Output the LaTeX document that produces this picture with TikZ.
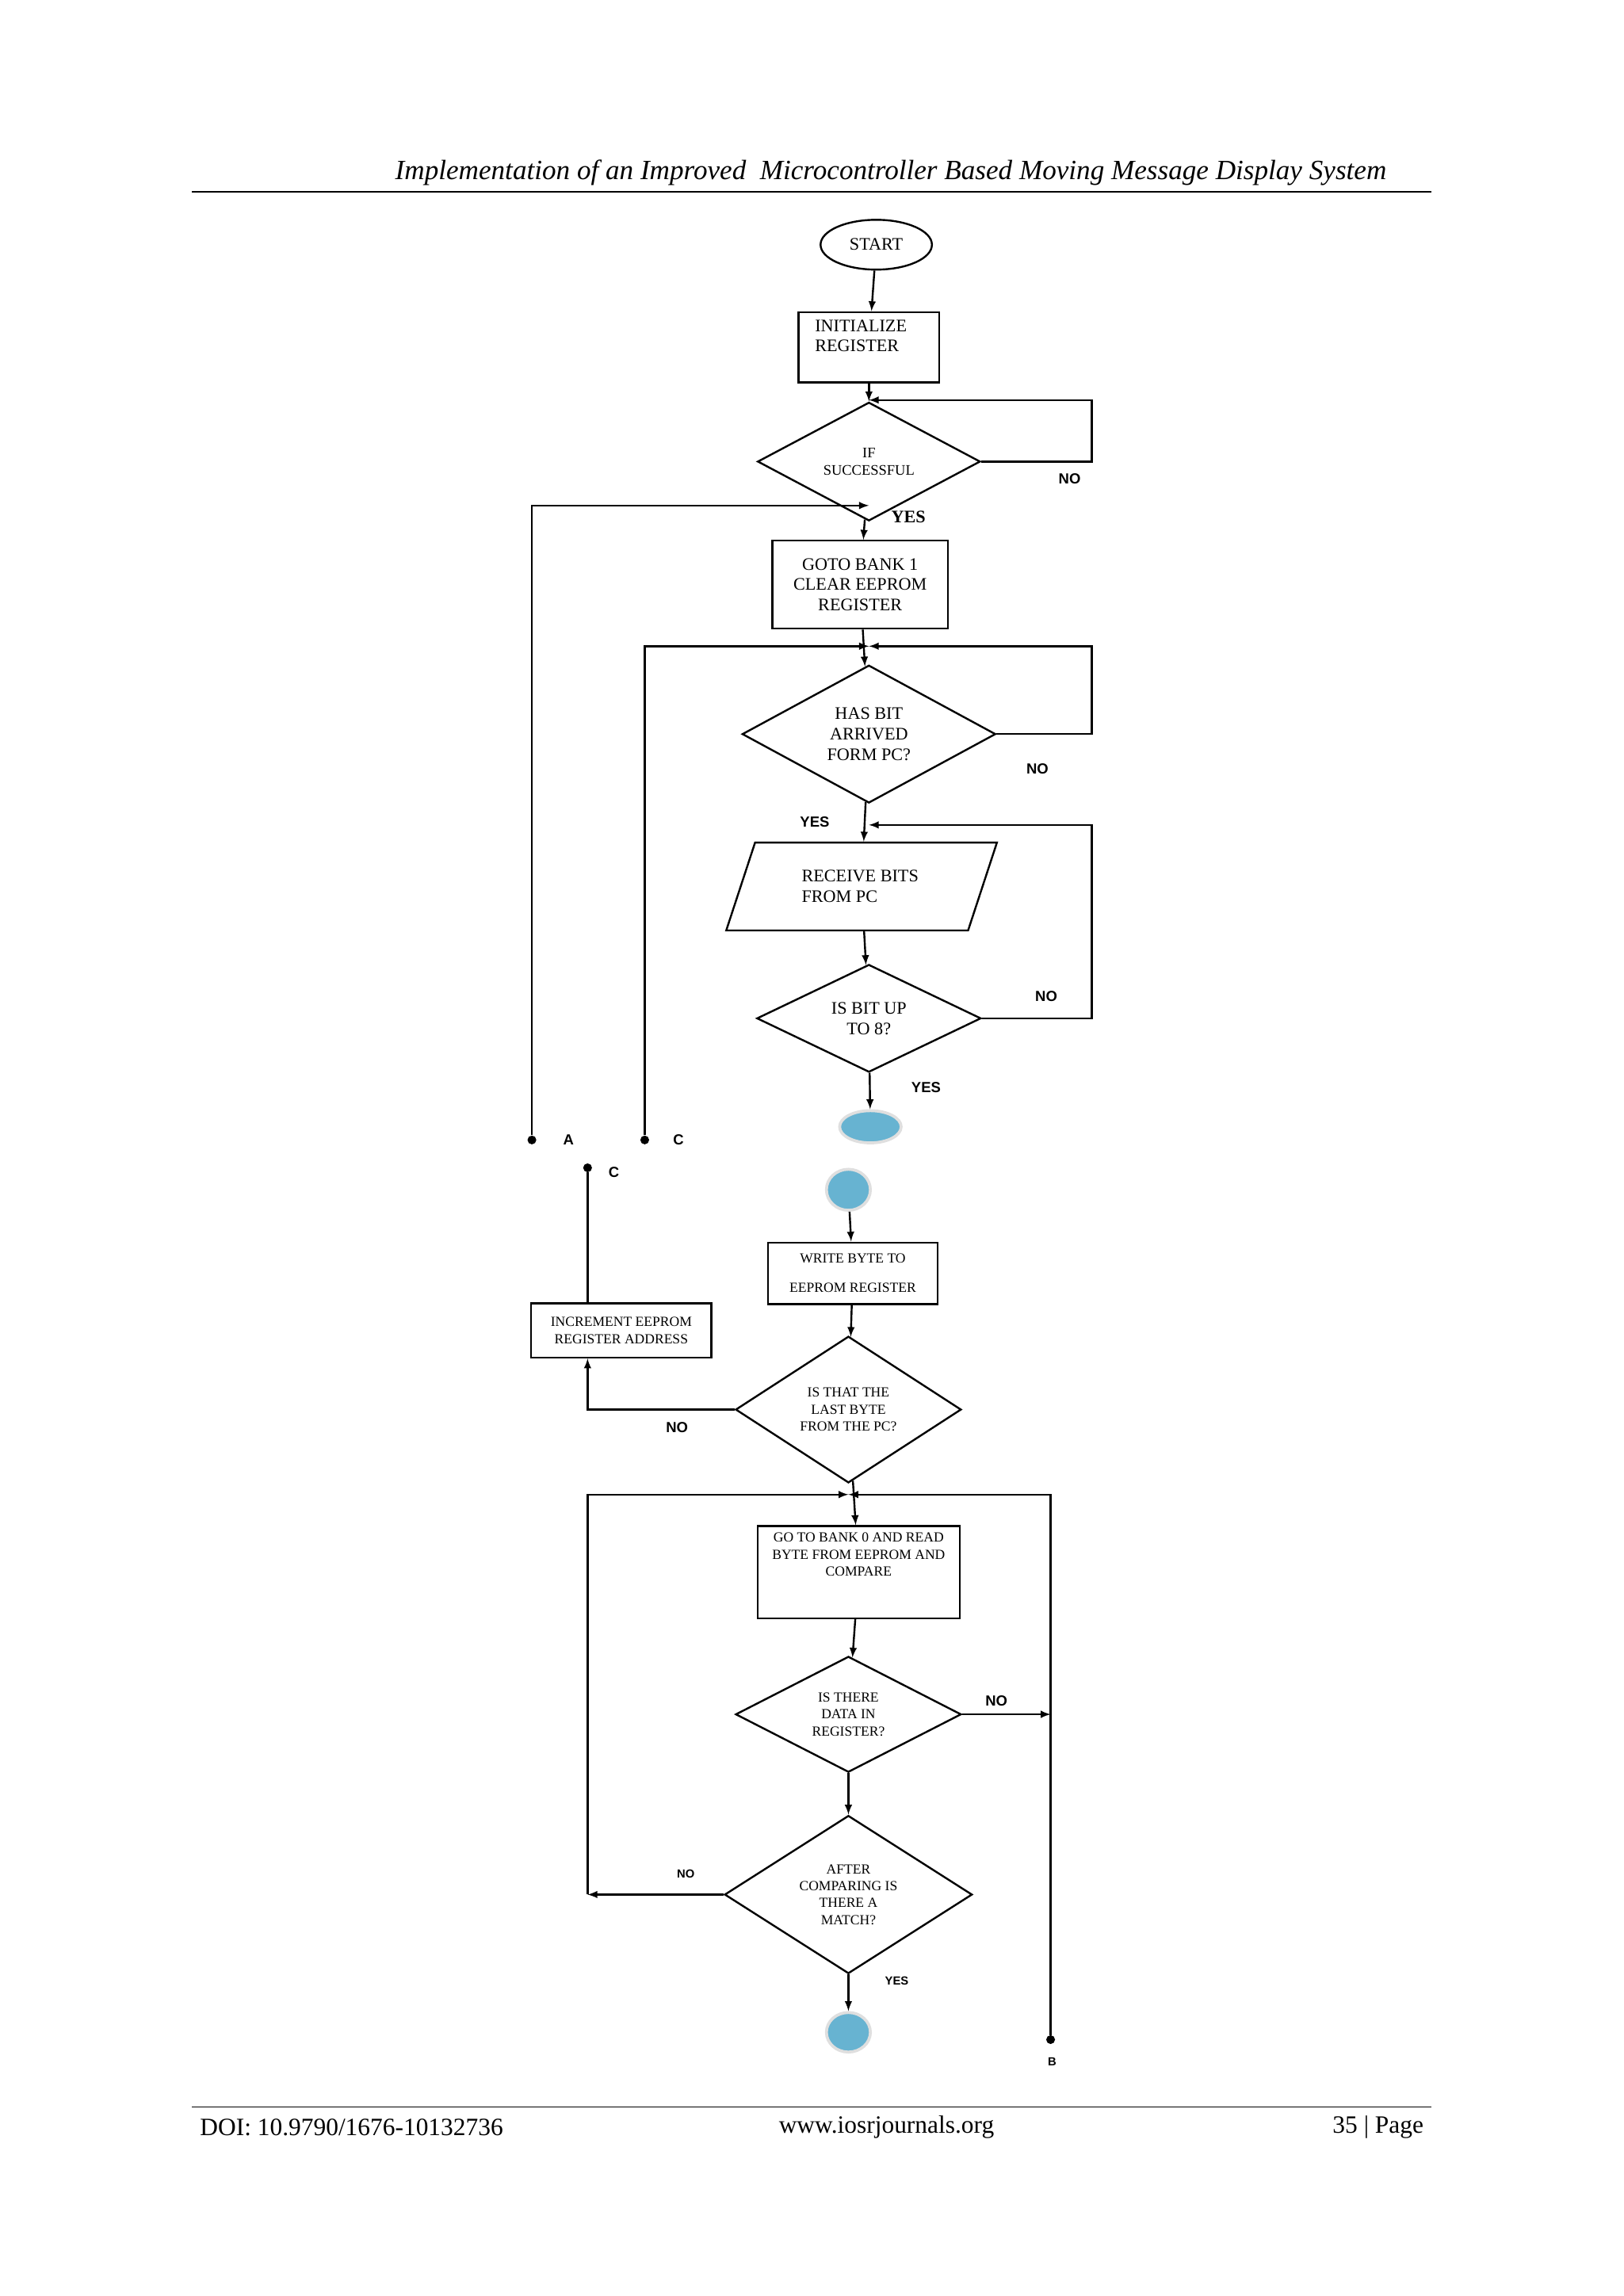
\documentclass[tikz,border=0pt]{standalone}
\usepackage{fontspec}
\setmainfont{Liberation Serif}
\newfontfamily\lblfont{Liberation Sans}
\usetikzlibrary{shapes.geometric, positioning, arrows}

\tikzset{
  flow/.style={draw, line width=1.3pt, inner sep=2pt, align=center, font=\fontsize{12}{14}\selectfont},
  box/.style={flow, rectangle},
  decide/.style={flow, diamond, inner sep=0pt, font=\fontsize{10}{12}\selectfont},
  io/.style={flow, trapezium, trapezium left angle=66, trapezium right angle=114, trapezium stretches=true},
  joint/.style={ellipse, fill=cyan!50!teal!70, draw=gray!25, line width=2pt},
  dot/.style={circle, fill, inner sep=0pt, minimum size=6pt},
  ans/.style={font=\lblfont\bfseries\fontsize{10}{12}\selectfont},
  line/.style={line width=1.3pt},
  arr/.style={line, -latex}
}

\begin{document}
\begin{tikzpicture}[x=1pt, y=-1pt]
\useasboundingbox (0,0) rectangle (1108,1567);

% page header and footer
\node (title) at (608,118) {\fontsize{19}{22}\selectfont\itshape Implementation of an Improved\ \ Microcontroller Based Moving Message Display System};
\draw[line width=0.8pt] (131,131) -- (977,131);
\draw[line width=0.8pt] (131,1438) -- (977,1438);
\node[anchor=west] (doi) at (133,1452) {\fontsize{17}{20}\selectfont DOI: 10.9790/1676-10132736};
\node (web) at (605,1452) {\fontsize{17}{20}\selectfont www.iosrjournals.org};
\node[anchor=east] (pg) at (975,1452) {\fontsize{17}{20}\selectfont 35 | Page};

% upper part
\node[flow, ellipse, minimum width=76pt, minimum height=34pt] (start) at (598,167) {START};
\node[box, minimum width=96pt, minimum height=48pt] (init) at (593,237) {};
\node[anchor=north west, align=left, font=\fontsize{12}{14}\selectfont, inner sep=0pt] (inittxt) at (556,218) {INITIALIZE\\REGISTER};
\node[decide, minimum width=152pt, minimum height=60pt] (succ) at (593,315) {IF\\SUCCESSFUL};
\node[box, minimum width=120pt, minimum height=60pt] (bank) at (587,399) {GOTO BANK 1\\CLEAR EEPROM\\REGISTER};
\node[decide, minimum width=173pt, minimum height=94pt, font=\fontsize{12}{14}\selectfont] (arrived) at (593,501) {HAS BIT\\ARRIVED\\FORM PC?};
\node[io, minimum width=185pt, minimum height=60pt, align=left] (recv) at (588,605) {RECEIVE BITS\\FROM PC\hspace*{2.5em}};
\node[decide, minimum width=153pt, minimum height=72pt, font=\fontsize{12}{14}\selectfont] (upto) at (593,695) {IS BIT UP\\TO 8?};
\node[joint, minimum width=42pt, minimum height=22pt] (jout) at (594,769) {};

\coordinate (c1) at (593,273);
\coordinate (c2) at (593,345);
\coordinate (c3) at (593,441);
\coordinate (c4) at (593,563);

\node[dot] (a) at (363,778) {};
\node[ans] (alab) at (388,778) {A};
\node[dot] (c) at (440,778) {};
\node[ans] (clab) at (463,778) {C};
\node[dot] (cc) at (401,797) {};
\node[ans] (cclab) at (419,800) {C};

\draw[arr] (start) -- (init);
\draw[arr] (init) -- (succ);
\draw[arr] (succ.east) -- (745,315) |- (c1);
\draw[arr] (succ) -- (bank);
\draw[arr] (a) |- (c2);
\draw[arr] (bank) -- (arrived);
\draw[arr] (c) |- (c3);
\draw[arr] (arrived.east) -- (745,501) |- (c3);
\draw[arr] (arrived) -- (recv);
\draw[arr] (recv) -- (upto);
\draw[arr] (upto.east) -- (745,695) |- (c4);
\draw[arr] (upto) -- (jout);

\node[ans] at (730,327) {NO};
\node[font=\bfseries\fontsize{12}{14}\selectfont] at (620,353) {YES};
\node[ans] at (708,525) {NO};
\node[ans] at (556,561) {YES};
\node[ans] at (714,680) {NO};
\node[ans] at (632,742) {YES};

% lower part
\node[joint, minimum width=30pt, minimum height=28pt] (jin) at (579,812) {};
\node[box, minimum width=116pt, minimum height=42pt, font=\fontsize{9.5}{20}\selectfont] (write) at (582,869) {WRITE BYTE TO\\EEPROM REGISTER};
\node[decide, minimum width=154pt, minimum height=100pt, font=\fontsize{9.5}{11.5}\selectfont] (last) at (579,962) {IS THAT THE\\LAST BYTE\\FROM THE PC?};
\node[box, minimum width=123pt, minimum height=37pt, font=\fontsize{9.5}{11.5}\selectfont] (incr) at (424,908) {INCREMENT EEPROM\\REGISTER ADDRESS};
\node[box, minimum width=138pt, minimum height=63pt] (read) at (586,1073) {};
\node[anchor=north, inner sep=0pt, align=center, font=\fontsize{9.5}{11.5}\selectfont] (readtxt) at (586,1046) {GO TO BANK 0 AND READ\\BYTE FROM EEPROM AND\\COMPARE};
\node[decide, minimum width=154pt, minimum height=71pt, font=\fontsize{9.5}{11.5}\selectfont] (data) at (579,1170) {IS THERE\\DATA IN\\REGISTER?};
\node[decide, minimum width=169pt, minimum height=100pt, font=\fontsize{9.5}{11.5}\selectfont] (match) at (579,1293) {AFTER\\COMPARING IS\\THERE A\\MATCH?};
\node[joint, minimum width=30pt, minimum height=27pt] (jend) at (579,1387) {};
\node[dot] (b) at (717,1392) {};
\node[ans, font=\lblfont\bfseries\fontsize{8}{10}\selectfont] (blab) at (718,1407) {B};

\coordinate (c5) at (579,1020);
\coordinate (c6) at (401,1293);
\coordinate (c7) at (717,1170);

\draw[arr] (jin) -- (write);
\draw[arr] (write) -- (last);
\draw[arr] (last.west) -- (401,962) -- (incr.south -| 401,0);
\draw[line] (incr.north -| 401,0) -- (cc);
\draw[arr] (last) -- (read);
\draw[arr] (c6) |- (c5);
\draw[arr] (b) |- (c5);
\draw[arr] (read) -- (data);
\draw[arr] (data.east) -- (c7);
\draw[arr] (data) -- (match);
\draw[arr] (match.west) -- (c6);
\draw[arr] (match) -- (jend);

\node[ans] at (462,974) {NO};
\node[ans] at (680,1161) {NO};
\node[ans, font=\lblfont\bfseries\fontsize{8}{10}\selectfont] at (468,1279) {NO};
\node[ans, font=\lblfont\bfseries\fontsize{8}{10}\selectfont] at (612,1352) {YES};
\end{tikzpicture}
\end{document}
